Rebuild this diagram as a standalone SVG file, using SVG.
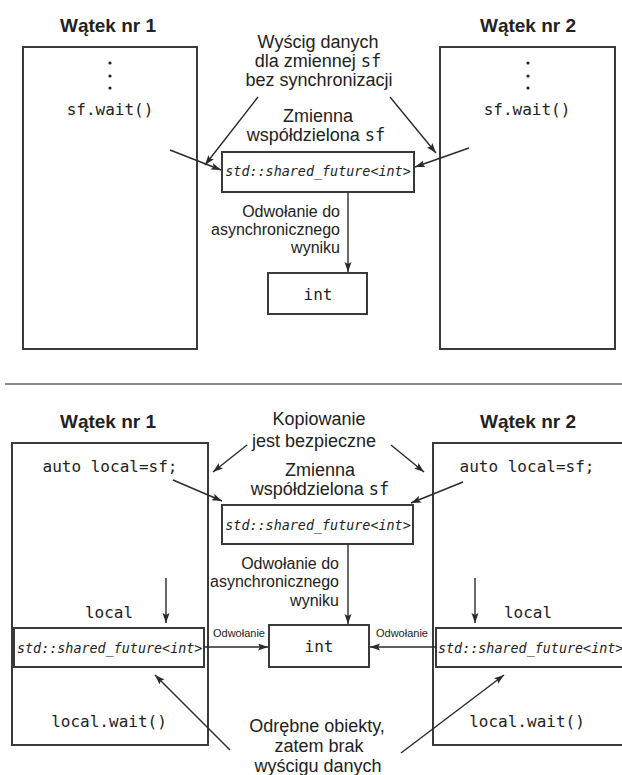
<svg xmlns="http://www.w3.org/2000/svg" width="622" height="775" viewBox="0 0 622 775">
<defs>
<marker id="ah" markerUnits="userSpaceOnUse" markerWidth="11" markerHeight="8" refX="10" refY="3.5" orient="auto">
<path d="M0,0 L10,3.5 L0,7 L2,3.5 z" fill="#2a2a2a"/>
</marker>
<style>
.box{fill:#fff;stroke:#3a3a3a;stroke-width:2}
.t{font-family:"Liberation Sans",Arial,sans-serif;fill:#222}
.lbl{font-size:18px;text-anchor:middle}
.sm{font-size:16px;text-anchor:end}
.tiny{font-size:11px;text-anchor:middle}
.title{font-size:19px;font-weight:bold;text-anchor:middle}
.code{font-family:"DejaVu Sans Mono","Liberation Mono",monospace;fill:#222;font-size:16px;text-anchor:middle}
.it{font-family:"DejaVu Sans Mono","Liberation Mono",monospace;fill:#222;font-size:13.4px;font-style:italic}
.con line{stroke:#2a2a2a;stroke-width:1.4;marker-end:url(#ah)}
</style>
</defs>
<rect width="622" height="775" fill="#fff"/>

<!-- TOP SECTION -->
<g id="thread1-top">
<text class="t title" x="108" y="32">Wątek nr 1</text>
<rect class="box" x="23" y="47" width="174" height="302"/>
<circle cx="110" cy="63" r="1.6" fill="#222"/>
<circle cx="110" cy="76" r="1.6" fill="#222"/>
<circle cx="110" cy="88" r="1.6" fill="#222"/>
<text class="code" x="110" y="115">sf.wait()</text>
</g>
<g id="thread2-top">
<text class="t title" x="528" y="32">Wątek nr 2</text>
<rect class="box" x="440" y="47" width="175" height="302"/>
<circle cx="528" cy="63" r="1.6" fill="#222"/>
<circle cx="528" cy="76" r="1.6" fill="#222"/>
<circle cx="528" cy="88" r="1.6" fill="#222"/>
<text class="code" x="527" y="115">sf.wait()</text>
</g>
<g id="race-label">
<text class="t lbl" x="318" y="48">Wyścig danych</text>
<text class="t lbl" x="318" y="67">dla zmiennej <tspan font-family="DejaVu Sans Mono,monospace" font-size="17">sf</tspan></text>
<text class="t lbl" x="319" y="86">bez synchronizacji</text>
</g>
<g id="shared-top">
<text class="t lbl" x="318" y="122">Zmienna</text>
<text class="t lbl" x="316" y="141">współdzielona <tspan font-family="DejaVu Sans Mono,monospace" font-size="17">sf</tspan></text>
<rect class="box" x="222" y="152" width="192" height="40"/>
<text class="it" x="318" y="176" text-anchor="middle">std::shared_future&lt;int&gt;</text>
</g>
<g id="ref-label-top">
<text class="t sm" x="340" y="217">Odwołanie do</text>
<text class="t sm" x="340" y="235">asynchronicznego</text>
<text class="t sm" x="340" y="253">wyniku</text>
</g>
<g id="int-top">
<rect class="box" x="268" y="273" width="99" height="41"/>
<text class="code" x="318" y="300" font-size="17">int</text>
</g>

<!-- separator -->
<line x1="5" y1="384" x2="622" y2="384" stroke="#8a8a8a" stroke-width="2"/>

<!-- BOTTOM SECTION -->
<g id="thread1-bottom">
<text class="t title" x="108" y="428">Wątek nr 1</text>
<rect class="box" x="12" y="443" width="196" height="302"/>
<text class="code" x="110" y="472">auto local=sf;</text>
<text class="code" x="109" y="618">local</text>
<text class="code" x="109" y="727">local.wait()</text>
</g>
<g id="local1">
<rect class="box" x="14" y="628" width="190" height="39"/>
<text class="it" x="17" y="653">std::shared_future&lt;int&gt;</text>
</g>
<g id="thread2-bottom">
<text class="t title" x="528" y="428">Wątek nr 2</text>
<rect class="box" x="433" y="443" width="200" height="302"/>
<text class="code" x="527" y="472">auto local=sf;</text>
<text class="code" x="528" y="618">local</text>
<text class="code" x="527" y="727">local.wait()</text>
</g>
<g id="local2">
<rect class="box" x="436" y="628" width="200" height="39"/>
<text class="it" x="438" y="653" font-size="12.7px">std::shared_future&lt;int&gt;</text>
</g>
<g id="copy-label">
<text class="t lbl" x="319" y="425">Kopiowanie</text>
<text class="t lbl" x="314" y="447">jest bezpieczne</text>
</g>
<g id="shared-bottom">
<text class="t lbl" x="320" y="476">Zmienna</text>
<text class="t lbl" x="320" y="495">współdzielona <tspan font-family="DejaVu Sans Mono,monospace" font-size="17">sf</tspan></text>
<rect class="box" x="222" y="505" width="191" height="39"/>
<text class="it" x="318" y="530" text-anchor="middle">std::shared_future&lt;int&gt;</text>
</g>
<g id="ref-label-bottom">
<text class="t sm" x="339" y="569">Odwołanie do</text>
<text class="t sm" x="339" y="587">asynchronicznego</text>
<text class="t sm" x="339" y="606">wyniku</text>
</g>
<g id="int-bottom">
<rect class="box" x="269" y="625" width="100" height="42"/>
<text class="code" x="319" y="652" font-size="17">int</text>
</g>
<g id="ref-small">
<text class="t tiny" x="239" y="637">Odwołanie</text>
<text class="t tiny" x="402" y="637">Odwołanie</text>
</g>
<g id="distinct-label">
<text class="t lbl" x="317" y="732">Odrębne obiekty,</text>
<text class="t lbl" x="319" y="752">zatem brak</text>
<text class="t lbl" x="318" y="772">wyścigu danych</text>
</g>

<g id="connectors" class="con">
<line x1="258" y1="97" x2="205" y2="165"/>
<line x1="170" y1="150" x2="221" y2="170"/>
<line x1="390" y1="97" x2="436" y2="153"/>
<line x1="469" y1="148" x2="415" y2="167"/>
<line x1="348" y1="192" x2="348" y2="272"/>
<line x1="247" y1="445" x2="213" y2="472"/>
<line x1="391" y1="445" x2="424" y2="472"/>
<line x1="173" y1="480" x2="222" y2="501"/>
<line x1="463" y1="482" x2="411" y2="503"/>
<line x1="348" y1="544" x2="348" y2="624"/>
<line x1="166" y1="578" x2="166" y2="623"/>
<line x1="475" y1="578" x2="475" y2="623"/>
<line x1="204" y1="647" x2="268" y2="647"/>
<line x1="436" y1="647" x2="370" y2="647"/>
<line x1="230" y1="750" x2="155" y2="675"/>
<line x1="401" y1="753" x2="504" y2="675"/>
</g>
</svg>
